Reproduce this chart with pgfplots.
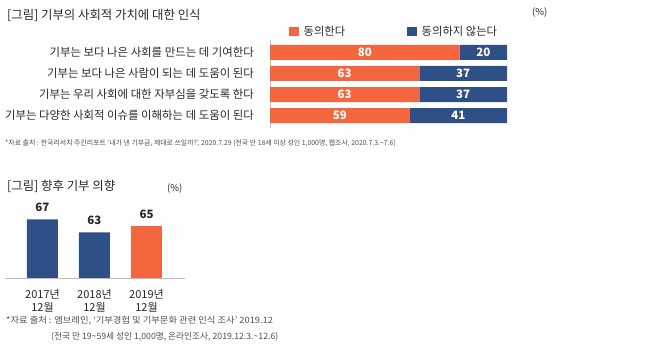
\documentclass[border=0pt]{standalone}
\usepackage{pgfplots}
\pgfplotsset{compat=1.18}
\usepackage{pgfplotstable}
\usepackage{fontspec}
\setmainfont{Noto Sans CJK KR}
\definecolor{cOrange}{RGB}{243,102,62}
\definecolor{cBlue}{RGB}{47,80,135}
\definecolor{cText}{RGB}{40,40,40}
\definecolor{cNote}{RGB}{80,80,80}
\pgfplotstableread{
row agree disagree
0 80 20
1 63 37
2 63 37
3 59 41
}\toptable
\pgfplotstableread{
x val
0 67
1 63
}\blueyears
\pgfplotstableread{
x val
2 65
}\orangeyears
\begin{document}
\begin{tikzpicture}
\useasboundingbox (0pt,0pt) rectangle (655pt,347pt);
% titles
\node[anchor=west, inner sep=0pt, text=cText, font=\fontsize{12.4}{14}\selectfont] at (7pt,332pt) {[그림] 기부의 사회적 가치에 대한 인식};
\node[anchor=west, inner sep=0pt, text=cText, font=\fontsize{9.5}{11}\selectfont] at (532pt,334.5pt) {(\%)};
% top chart
\begin{axis}[
  at={(270pt,219pt)}, anchor=south west,
  width=237pt, height=88pt, scale only axis,
  xbar stacked, bar width=15pt,
  xmin=0, xmax=100, ymin=-0.58, ymax=3.58, y dir=reverse,
  axis x line=none, axis y line*=left,
  y axis line style={draw=gray!50, -},
  ytick={0,1,2,3}, major tick length=0pt,
  yticklabels={기부는 보다 나은 사회를 만드는 데 기여한다, 기부는 보다 나은 사람이 되는 데 도움이 된다, 기부는 우리 사회에 대한 자부심을 갖도록 한다, 기부는 다양한 사회적 이슈를 이해하는 데 도움이 된다},
  yticklabel style={font=\fontsize{11.4}{13}\selectfont, text=cText, inner sep=0pt, xshift=-16pt},
  legend style={draw=none, fill=none, at={(axis description cs:0.08,1)}, anchor=south west, yshift=-1pt, xshift=-3pt, legend columns=2, font=\fontsize{11.3}{13}\selectfont, text=cText, /tikz/every even column/.append style={column sep=60pt}},
  legend image code/.code={\fill[#1] (0pt,-4.5pt) rectangle (9.5pt,4.5pt); \path (12.5pt,0pt);},
]
\addplot[fill=cOrange, draw=none] table[x=agree, y=row] {\toptable};
\addlegendentry{동의한다}
\addplot[fill=cBlue, draw=none] table[x=disagree, y=row] {\toptable};
\addlegendentry{동의하지 않는다}
\end{axis}
% labels overlay
\begin{axis}[
  at={(270pt,219pt)}, anchor=south west,
  width=237pt, height=88pt, scale only axis,
  xmin=0, xmax=100, ymin=-0.58, ymax=3.58, y dir=reverse,
  hide axis,
  nodes near coords style={anchor=center, text=white, font=\fontsize{11.5}{12}\selectfont\bfseries},
]
\addplot[draw=none, mark=none, nodes near coords, point meta=explicit symbolic] table[x expr=\thisrow{agree}/2, y=row, meta=agree] {\toptable};
\addplot[draw=none, mark=none, nodes near coords, point meta=explicit symbolic] table[x expr=\thisrow{agree}+\thisrow{disagree}/2, y=row, meta=disagree] {\toptable};
\end{axis}
% footnote 1
\node[anchor=west, inner sep=0pt, text=cNote, font=\fontsize{6.9}{8}\selectfont] at (5pt,204pt) {*자료 출처 : 한국리서치 주간리포트 ‘내가 낸 기부금, 제대로 쓰일까?’, 2020.7.29 (전국 만 18세 이상 성인 1,000명, 웹조사, 2020.7.3.\textasciitilde7.6)};
% bottom title
\node[anchor=west, inner sep=0pt, text=cText, font=\fontsize{12.4}{14}\selectfont] at (7pt,161pt) {[그림] 향후 기부 의향};
\node[anchor=west, inner sep=0pt, text=cText, font=\fontsize{9.5}{11}\selectfont] at (167pt,158pt) {(\%)};
% bottom chart
\begin{axis}[
  at={(5pt,69pt)}, anchor=south west,
  width=180pt, height=78pt, scale only axis,
  ybar, bar width=31pt, bar shift=0pt,
  xmin=-0.72, xmax=2.74, ymin=49, ymax=73,
  axis y line=none, axis x line*=bottom,
  x axis line style={draw=gray!50, -},
  xtick={0,1,2}, major tick length=0pt,
  xticklabels={2017년\\12월, 2018년\\12월, 2019년\\12월},
  xticklabel style={align=center, font=\fontsize{11}{13}\selectfont, text=cText, yshift=-8pt},
  /pgf/number format/assume math mode=true,
  nodes near coords,
  nodes near coords style={text=cText, font=\fontsize{11.5}{12}\selectfont\bfseries, yshift=4pt},
]
\addplot[fill=cBlue, draw=none] table[x=x, y=val] {\blueyears};
\addplot[fill=cOrange, draw=none] table[x=x, y=val] {\orangeyears};
\end{axis}
% footnote 2
\node[anchor=west, inner sep=0pt, text=cNote, font=\fontsize{8.7}{10}\selectfont, xscale=1.07] at (6pt,26pt) {*자료 출처 : 엠브레인, ‘기부경험 및 기부문화 관련 인식 조사’ 2019.12};
\node[anchor=west, inner sep=0pt, text=cNote, font=\fontsize{8.7}{10}\selectfont] at (51pt,10pt) {(전국 만 19\textasciitilde59세 성인 1,000명, 온라인조사, 2019.12.3.\textasciitilde12.6)};
\end{tikzpicture}
\end{document}
